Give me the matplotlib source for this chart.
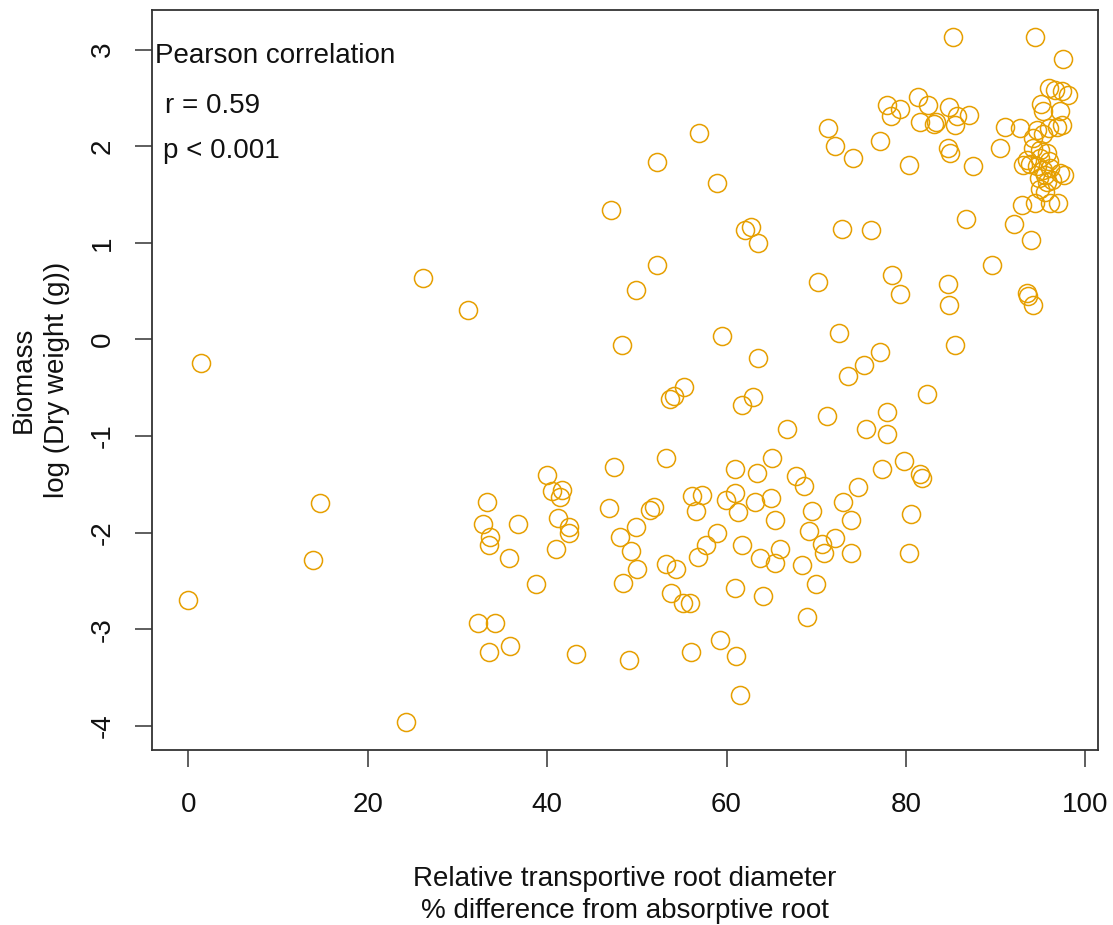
import numpy as np
import matplotlib
matplotlib.use('Agg')
import matplotlib.pyplot as plt

plt.rcParams['font.family'] = ['Liberation Sans', 'DejaVu Sans']
plt.rcParams['axes.unicode_minus'] = False

# relative transportive root diameter (% difference from absorptive root)
rel_diam = [
    0.0, 1.4, 13.9, 14.7, 24.3, 26.2, 31.2,
    33.3, 32.9, 36.8, 33.6, 33.5, 35.7, 38.8, 32.3, 34.2, 33.5, 35.9, 43.2,
    40.0, 40.5, 41.7, 41.4, 41.2, 42.4, 42.4, 41.0,
    47.5, 53.2, 46.9, 48.1, 49.9, 49.3, 50.0, 48.5, 49.1, 51.5, 51.9, 53.3,
    54.4, 53.8, 55.1, 55.9, 56.0, 56.2, 57.3, 56.6, 58.9, 57.7, 56.8,
    59.3, 61.1, 61.5, 60.9, 63.4, 65.1, 67.8, 68.6, 59.9, 60.9, 61.3, 63.2,
    65.0, 65.4, 61.7, 63.7, 66.0, 65.4, 60.9, 64.1, 69.0, 68.4, 70.0, 69.5,
    69.2, 70.7, 70.9, 72.1, 73.0, 74.7, 73.9, 73.9, 77.3, 79.8, 81.6, 81.8,
    80.6, 80.4,
    75.5, 66.8, 71.2, 77.9, 77.9, 82.4, 55.3, 53.7, 54.1, 61.7, 62.9, 63.5,
    59.5, 48.3, 72.5, 77.1, 75.3, 73.5, 85.5, 70.2, 78.4, 79.3, 84.7, 84.8,
    49.9, 52.2, 89.6, 93.5, 93.6, 94.2,
    47.1, 52.2, 56.9, 58.9, 62.1, 62.7, 63.5, 72.9, 76.1, 86.7, 92.0, 94.0,
    71.3, 72.1, 74.1, 77.1, 80.4, 77.9, 78.3, 79.3, 81.3, 82.5, 81.6, 83.1,
    83.4, 84.8, 85.7, 87.0, 85.5, 84.7, 84.9, 87.5, 90.5, 91.0, 92.7, 85.3,
    94.4, 97.5,
    95.9, 96.6, 97.4, 98.1, 95.1, 95.3, 97.2, 97.4, 96.8, 94.6, 95.3, 95.9,
    94.2, 94.9, 95.7, 93.1, 93.8, 93.5, 94.6, 95.3, 96.1, 97.2, 97.6, 94.8,
    95.7, 96.3, 94.9, 95.5, 92.9, 94.4, 96.1, 97.0, 94.2, 95.0, 96.0, 95.5,
]

# log(dry weight (g))
biomass = [
    -2.70, -0.24, -2.28, -1.69, -3.96, 0.64, 0.30,
    -1.68, -1.91, -1.91, -2.05, -2.13, -2.26, -2.53, -2.94, -2.94, -3.24, -3.17, -3.26,
    -1.40, -1.57, -1.56, -1.63, -1.85, -1.94, -2.00, -2.17,
    -1.32, -1.23, -1.74, -2.05, -1.94, -2.19, -2.38, -2.52, -3.32, -1.77, -1.73, -2.32,
    -2.38, -2.63, -2.73, -2.73, -3.24, -1.62, -1.61, -1.78, -2.00, -2.13, -2.25,
    -3.11, -3.28, -3.68, -1.34, -1.38, -1.23, -1.41, -1.52, -1.66, -1.59, -1.79, -1.68,
    -1.64, -1.87, -2.13, -2.26, -2.17, -2.31, -2.57, -2.66, -2.87, -2.34, -2.53, -1.78,
    -1.98, -2.12, -2.21, -2.06, -1.68, -1.53, -1.87, -2.21, -1.34, -1.26, -1.39, -1.43,
    -1.81, -2.21,
    -0.93, -0.93, -0.79, -0.75, -0.98, -0.57, -0.49, -0.62, -0.59, -0.68, -0.60, -0.19,
    0.04, -0.06, 0.07, -0.13, -0.26, -0.38, -0.06, 0.59, 0.67, 0.47, 0.57, 0.36,
    0.51, 0.77, 0.77, 0.48, 0.45, 0.36,
    1.34, 1.84, 2.14, 1.62, 1.13, 1.16, 1.00, 1.14, 1.13, 1.25, 1.19, 1.03,
    2.19, 2.00, 1.88, 2.05, 1.81, 2.43, 2.31, 2.39, 2.51, 2.43, 2.25, 2.23,
    2.25, 2.41, 2.31, 2.32, 2.22, 1.98, 1.93, 1.79, 1.98, 2.20, 2.19, 3.13,
    3.13, 2.90,
    2.60, 2.58, 2.57, 2.53, 2.44, 2.36, 2.36, 2.22, 2.20, 2.17, 2.13, 2.19,
    1.98, 1.96, 1.93, 1.81, 1.82, 1.86, 1.79, 1.75, 1.77, 1.72, 1.70, 1.67,
    1.63, 1.65, 1.56, 1.53, 1.39, 1.41, 1.41, 1.41, 2.08, 1.88, 1.85, 1.70,
]

stats_lines = ['Pearson correlation', 'r = 0.59', 'p < 0.001']

fig = plt.figure(figsize=(11.13, 9.25), dpi=100)
ax = fig.add_axes([0.1363, 0.1892, 0.8505, 0.8000])

ax.plot(rel_diam, biomass, 'o', ms=13, mfc='none', mec='#E69F00', mew=1.1)

ax.set_xlim(-4.08, 101.45)
ax.set_ylim(-4.25, 3.41)
ax.set_xticks([0, 20, 40, 60, 80, 100])
ax.set_yticks([-4, -3, -2, -1, 0, 1, 2, 3])
ax.tick_params(axis='both', direction='out', length=12, width=1.1,
               labelsize=20, color='#333333', labelcolor='#111111')
ax.tick_params(axis='x', pad=18)
ax.tick_params(axis='y', pad=14)
plt.setp(ax.get_yticklabels(), rotation=90, va='center')
for s in ax.spines.values():
    s.set_linewidth(1.3)
    s.set_color('#333333')

ax.set_xlabel('Relative transportive root diameter\n% difference from absorptive root',
              fontsize=20, labelpad=35, linespacing=1.3, color='#111111')
ax.set_ylabel('Biomass\nlog (Dry weight (g))', fontsize=20, labelpad=14,
              linespacing=1.35, color='#111111')

ax.text(0.0035, 0.928, stats_lines[0], transform=ax.transAxes,
        fontsize=20, ha='left', va='baseline', color='#111111')
ax.text(0.014, 0.861, stats_lines[1], transform=ax.transAxes,
        fontsize=20, ha='left', va='baseline', color='#111111')
ax.text(0.012, 0.800, stats_lines[2], transform=ax.transAxes,
        fontsize=20, ha='left', va='baseline', color='#111111')

fig.savefig('out.png', dpi=100)
